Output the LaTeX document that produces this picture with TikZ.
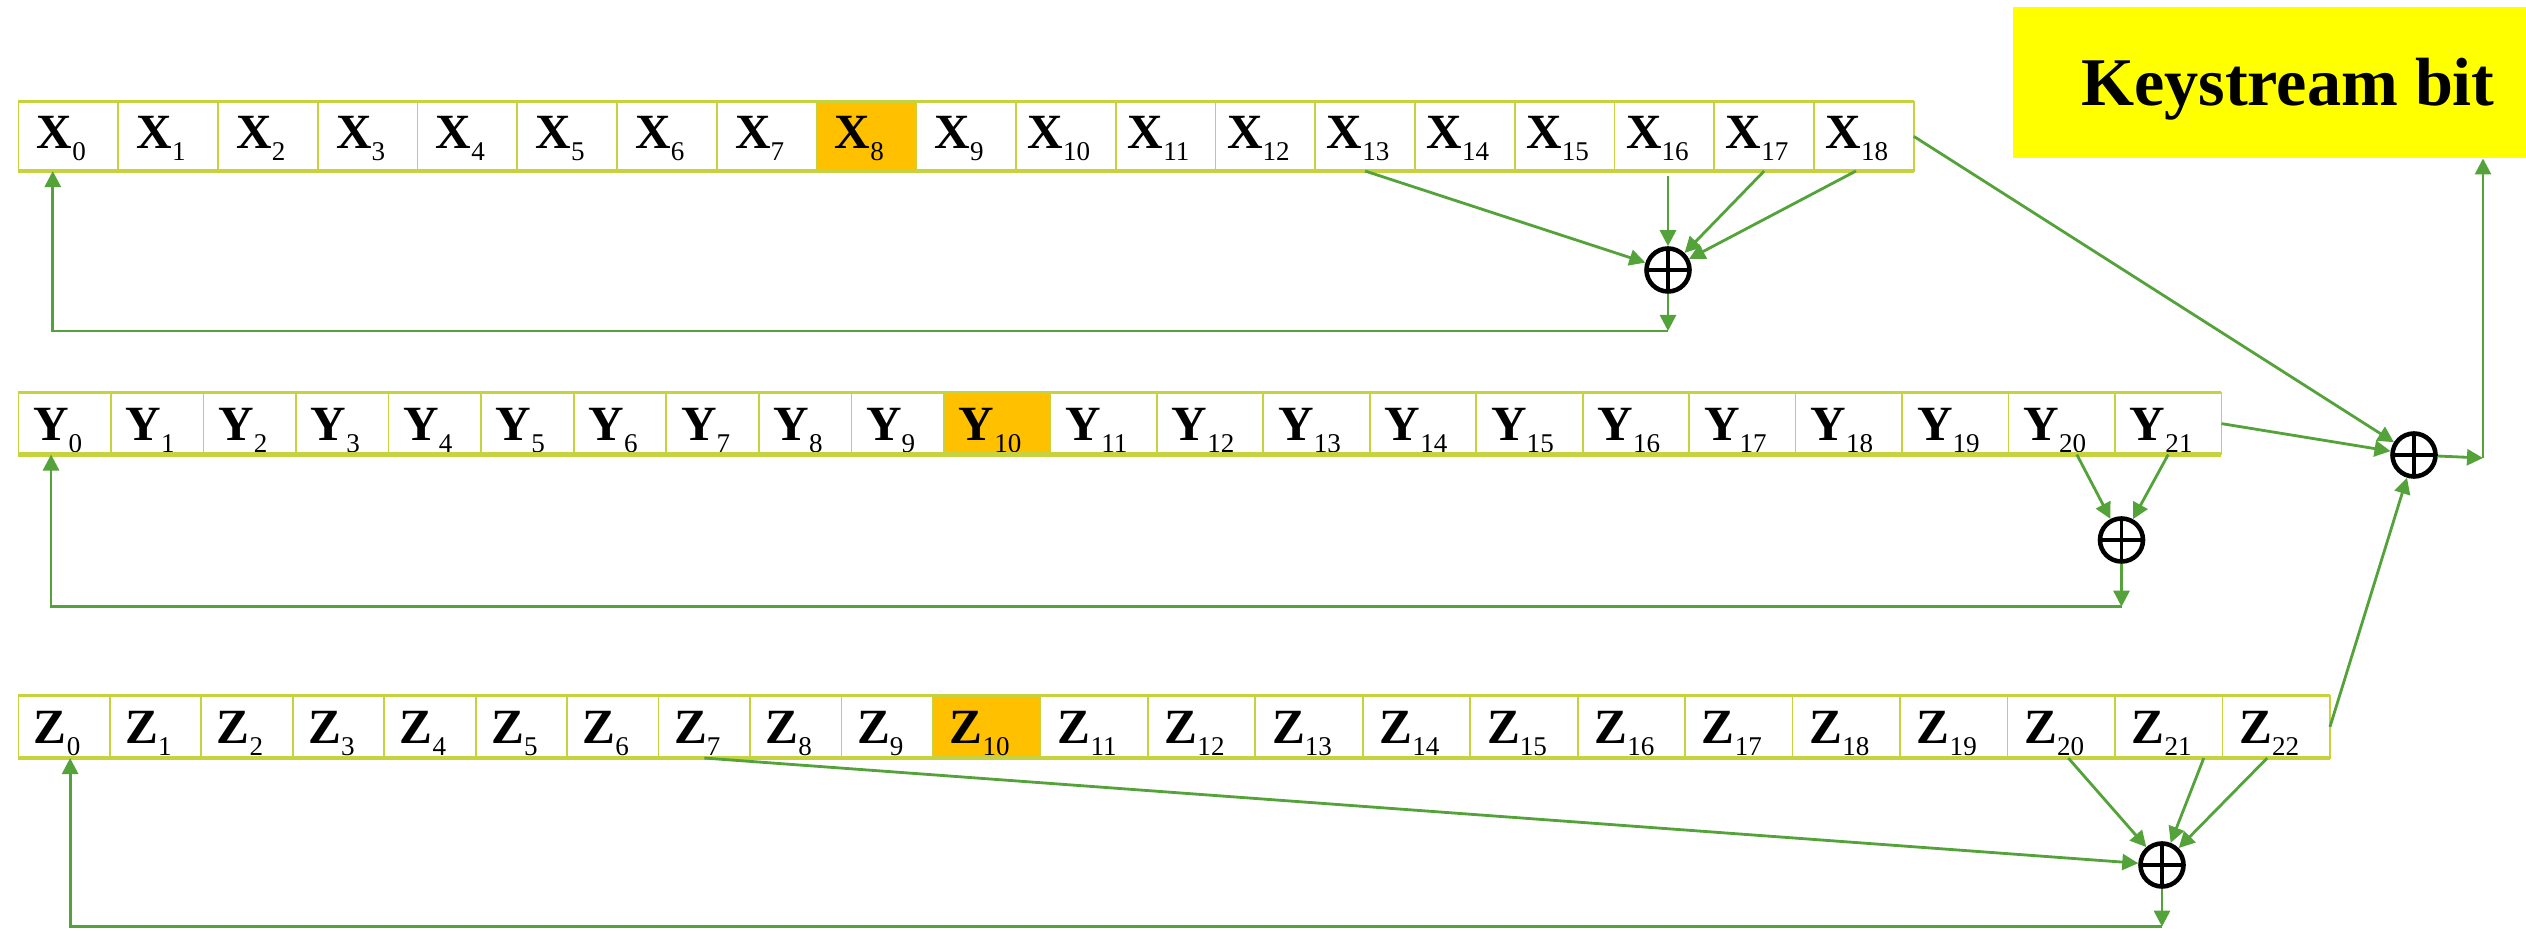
\documentclass[tikz,border=0pt]{standalone}
\usepackage{fontspec}
\setmainfont{Liberation Serif}
\usetikzlibrary{positioning,arrows.meta}
\definecolor{regline}{RGB}{198,210,62}
\definecolor{tapgreen}{RGB}{84,162,58}
\definecolor{clockorange}{RGB}{255,192,0}
\definecolor{ksyellow}{RGB}{255,255,0}
\newcommand{\bitlbl}[2]{\textbf{#1}\raisebox{-0.12cm}{\fontsize{7.7}{8}\selectfont #2}\hspace*{0.14cm}}
\tikzset{
  cell/.style={draw=regline,line width=0.48pt,inner sep=0pt,outer sep=0pt,anchor=west,font=\fontsize{14}{16}\selectfont},
  xcell/.style={cell,minimum width=0.997cm,minimum height=0.693cm,text height=0.34cm,text depth=0.10cm},
  ycell/.style={cell,minimum height=0.618cm,text height=0.40cm,text depth=0.07cm},
  zcell/.style={cell,minimum height=0.623cm,text height=0.40cm,text depth=0.07cm},
  rowtop/.style={regline,line width=0.77pt},
  rowband/.style={regline,line width=1.4pt},
  tap/.style={draw=tapgreen,line width=0.8pt,->},
  xor/.style={circle,draw=black,line width=1.3pt,minimum size=0.43cm,inner sep=0pt,
    path picture={\draw[line width=1pt] (path picture bounding box.north) -- (path picture bounding box.south)
      (path picture bounding box.west) -- (path picture bounding box.east);}},
  ksbox/.style={fill=ksyellow,inner sep=0pt,minimum width=5.5cm,minimum height=1.51cm,text depth=0pt,
    font=\bfseries\fontsize{19.4}{22}\selectfont}
}
\begin{document}
\begin{tikzpicture}[x=0.01cm,y=-0.01cm,>={Triangle[length=0.16cm,width=0.16cm]}]
  \useasboundingbox (0,0) rectangle (2526,931);
  \node[ksbox,anchor=north west] (ks) at (2012,6) {Keystream bit};
  \node[xcell,fill=white,anchor=north west] (x0) at (18.4,101.7) {\bitlbl{X}{0}};
  \foreach \i [remember=\i as \j (initially 0)] in {1,...,18}{
    \ifnum\i=8 \def\bitfill{clockorange}\else\def\bitfill{white}\fi
    \node[xcell,fill=\bitfill,right=0pt of x\j] (x\i) {\bitlbl{X}{\i}};
  }
  \node[ycell,fill=white,minimum width=0.925cm,anchor=north west] (y0) at (18.4,392.7) {\bitlbl{Y}{0}};
  \foreach \i [remember=\i as \j (initially 0)] in {1,...,21}{
    \ifnum\i=10 \def\bitfill{clockorange}\else\def\bitfill{white}\fi
    \ifnum\i<10 \def\bitw{0.925cm}\else\def\bitw{1.064cm}\fi
    \node[ycell,fill=\bitfill,minimum width=\bitw,right=0pt of y\j] (y\i) {\bitlbl{Y}{\i}};
  }
  \node[zcell,fill=white,minimum width=0.914cm,anchor=north west] (z0) at (18.4,695.7) {\bitlbl{Z}{0}};
  \foreach \i [remember=\i as \j (initially 0)] in {1,...,22}{
    \ifnum\i=10 \def\bitfill{clockorange}\else\def\bitfill{white}\fi
    \ifnum\i<10 \def\bitw{0.914cm}\else\def\bitw{1.074cm}\fi
    \node[zcell,fill=\bitfill,minimum width=\bitw,right=0pt of z\j] (z\i) {\bitlbl{Z}{\i}};
  }
  \foreach \r/\n in {x/18,y/21,z/22}{
    \draw[rowtop] (\r0.north west) -- (\r\n.north east);
    \draw[rowband] (\r0.south west) -- (\r\n.south east);
  }
  \node[xor] (xorx) at (1668,270) {};
  \node[xor] (xory) at (2121.5,540) {};
  \node[xor] (xorz) at (2162,865) {};
  \node[xor] (xorout) at (2414,455) {};
  \coordinate (xturn) at (xorx |- 0,331);
  \coordinate (yturn) at (xory |- 0,606.7);
  \coordinate (zturn) at (xorz |- 0,926.7);
  \coordinate (outturn) at (2483,458);
  \draw[tap] (x13.south) -- (xorx);
  \draw[tap] ([yshift=-0.05cm]xorx |- x16.south) -- (xorx);
  \draw[tap] (x17.south) -- (xorx);
  \draw[tap] ([xshift=-0.08cm]x18.south) -- (xorx);
  \draw[tap] (xorx) -- (xturn);
  \draw[tap] (xturn) -| ([xshift=-0.155cm]x0.south);
  \draw[tap] ([xshift=0.15cm]y20.south) -- (xory);
  \draw[tap] (y21.south) -- (xory);
  \draw[tap] (xory) -- (yturn);
  \draw[tap] (yturn) -| ([xshift=-0.136cm]y0.south);
  \draw[tap] (z7.south) -- (xorz);
  \draw[tap] ([xshift=0.07cm]z20.south) -- (xorz);
  \draw[tap] ([xshift=0.35cm]z21.south) -- (xorz);
  \draw[tap] ([xshift=-0.09cm]z22.south) -- (xorz);
  \draw[tap] (xorz) -- (zturn);
  \draw[tap] (zturn) -| ([xshift=0.06cm]z0.south);
  \draw[tap] (x18.east) -- (xorout);
  \draw[tap] (y21.east) -- (xorout);
  \draw[tap] (z22.east) -- (xorout);
  \draw[tap] (xorout) -- (outturn);
  \draw[tap] (outturn) -- (outturn |- ks.south);
\end{tikzpicture}
\end{document}
